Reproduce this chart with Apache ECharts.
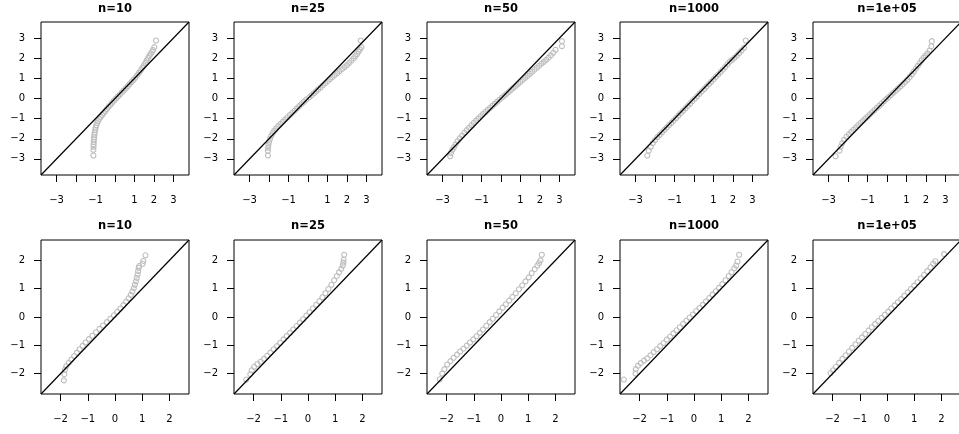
<!DOCTYPE html>
<html><head><meta charset="utf-8">
<script src="https://cdn.jsdelivr.net/npm/echarts@6/dist/echarts.min.js"></script>
<style>html,body{margin:0;padding:0;background:#fff}#c{width:959px;height:434px}</style>
</head><body><div id="c"></div>
<script>
// ---- data (x, y) ----
const panelTitles = ['n=10', 'n=25', 'n=50', 'n=1000', 'n=1e+05'];

const topTicks = [-3, -2, -1, 0, 1, 2, 3];
const topXTickLabels = ['−3', '', '−1', '', '1', '2', '3'];
const topYTickLabels = ['−3', '−2', '−1', '0', '1', '2', '3'];
const botTicks = [-2, -1, 0, 1, 2];
const botXTickLabels = ['−2', '−1', '0', '1', '2'];
const botYTickLabels = ['−2', '−1', '0', '1', '2'];
const topRange = [-3.8, 3.8];
const botRange = [-2.72, 2.72];

const top_n10 = [[-1.11,-2.83],[-1.11,-2.55],[-1.10,-2.40],[-1.10,-2.28],[-1.09,-2.16],[-1.08,-2.04],[-1.07,-1.92],[-1.06,-1.80],[-1.04,-1.68],[-1.02,-1.56],[-0.99,-1.44],[-0.96,-1.33],[-0.92,-1.22],[-0.87,-1.12],[-0.81,-1.02],[-0.74,-0.92],[-0.66,-0.82],[-0.58,-0.72],[-0.50,-0.62],[-0.42,-0.52],[-0.33,-0.42],[-0.24,-0.32],[-0.15,-0.21],[-0.05,-0.10],[0.05,0.00],[0.15,0.10],[0.25,0.20],[0.35,0.30],[0.45,0.40],[0.55,0.50],[0.65,0.60],[0.75,0.71],[0.85,0.82],[0.95,0.93],[1.05,1.04],[1.14,1.16],[1.23,1.28],[1.32,1.40],[1.40,1.52],[1.48,1.64],[1.56,1.77],[1.63,1.90],[1.70,2.02],[1.77,2.13],[1.84,2.23],[1.90,2.32],[1.95,2.41],[2.02,2.55],[2.11,2.88]];
const top_n25 = [[-2.06,-2.83],[-2.06,-2.60],[-2.05,-2.45],[-2.03,-2.30],[-2.00,-2.15],[-1.95,-2.00],[-1.89,-1.86],[-1.82,-1.73],[-1.74,-1.61],[-1.64,-1.49],[-1.53,-1.37],[-1.41,-1.26],[-1.29,-1.15],[-1.17,-1.04],[-1.05,-0.93],[-0.93,-0.82],[-0.81,-0.71],[-0.69,-0.60],[-0.57,-0.49],[-0.45,-0.38],[-0.33,-0.27],[-0.21,-0.16],[-0.09,-0.05],[0.06,0.06],[0.18,0.16],[0.30,0.26],[0.42,0.36],[0.53,0.46],[0.65,0.56],[0.77,0.66],[0.89,0.76],[1.01,0.86],[1.13,0.96],[1.25,1.06],[1.37,1.16],[1.50,1.26],[1.62,1.36],[1.75,1.46],[1.88,1.56],[2.00,1.66],[2.12,1.77],[2.23,1.88],[2.34,1.99],[2.43,2.10],[2.52,2.21],[2.60,2.33],[2.67,2.44],[2.74,2.55],[2.71,2.88]];
const top_n50 = [[-2.61,-2.87],[-2.57,-2.70],[-2.50,-2.55],[-2.42,-2.42],[-2.33,-2.28],[-2.23,-2.12],[-2.12,-1.98],[-2.00,-1.84],[-1.88,-1.70],[-1.76,-1.57],[-1.64,-1.45],[-1.52,-1.33],[-1.40,-1.21],[-1.28,-1.10],[-1.16,-0.99],[-1.04,-0.88],[-0.92,-0.77],[-0.80,-0.67],[-0.68,-0.56],[-0.56,-0.46],[-0.44,-0.36],[-0.32,-0.26],[-0.20,-0.16],[-0.08,-0.06],[0.04,0.04],[0.16,0.13],[0.28,0.23],[0.40,0.33],[0.52,0.43],[0.64,0.53],[0.76,0.63],[0.88,0.73],[1.00,0.83],[1.12,0.93],[1.24,1.03],[1.36,1.13],[1.48,1.23],[1.60,1.33],[1.72,1.43],[1.84,1.53],[1.96,1.63],[2.08,1.73],[2.20,1.82],[2.32,1.92],[2.44,2.03],[2.56,2.14],[2.68,2.27],[2.80,2.42],[3.13,2.60],[3.13,2.85]];
const top_n1000 = [[-2.40,-2.83],[-2.32,-2.59],[-2.22,-2.40],[-2.12,-2.22],[-2.00,-2.06],[-1.88,-1.92],[-1.76,-1.80],[-1.64,-1.68],[-1.52,-1.56],[-1.40,-1.44],[-1.28,-1.32],[-1.16,-1.21],[-1.04,-1.09],[-0.92,-0.97],[-0.80,-0.85],[-0.68,-0.73],[-0.56,-0.61],[-0.44,-0.49],[-0.32,-0.37],[-0.20,-0.25],[-0.08,-0.13],[0.04,-0.01],[0.16,0.11],[0.28,0.23],[0.40,0.35],[0.52,0.47],[0.64,0.59],[0.76,0.71],[0.88,0.83],[1.00,0.95],[1.12,1.07],[1.24,1.19],[1.36,1.31],[1.48,1.43],[1.60,1.56],[1.72,1.70],[1.84,1.83],[1.96,1.92],[2.08,2.02],[2.20,2.13],[2.32,2.25],[2.44,2.38],[2.57,2.52],[2.66,2.88]];
const top_n1e5 = [[-2.64,-2.87],[-2.44,-2.59],[-2.38,-2.40],[-2.30,-2.22],[-2.20,-2.05],[-2.08,-1.90],[-1.96,-1.78],[-1.84,-1.66],[-1.72,-1.55],[-1.60,-1.44],[-1.48,-1.33],[-1.36,-1.22],[-1.24,-1.11],[-1.12,-1.00],[-1.00,-0.90],[-0.88,-0.79],[-0.76,-0.68],[-0.64,-0.57],[-0.52,-0.46],[-0.40,-0.36],[-0.28,-0.25],[-0.16,-0.14],[-0.04,-0.03],[0.08,0.07],[0.20,0.17],[0.32,0.28],[0.44,0.38],[0.56,0.49],[0.68,0.59],[0.80,0.70],[0.92,0.81],[1.04,0.93],[1.16,1.06],[1.28,1.20],[1.38,1.34],[1.48,1.48],[1.58,1.62],[1.68,1.76],[1.78,1.90],[1.88,2.03],[1.98,2.13],[2.08,2.24],[2.18,2.38],[2.28,2.60],[2.30,2.85]];

const bot_n10 = [[-1.88,-2.24],[-1.86,-2.02],[-1.84,-1.86],[-1.79,-1.74],[-1.70,-1.62],[-1.60,-1.50],[-1.50,-1.38],[-1.40,-1.26],[-1.30,-1.14],[-1.19,-1.02],[-1.08,-0.90],[-0.96,-0.78],[-0.83,-0.66],[-0.70,-0.54],[-0.57,-0.42],[-0.44,-0.30],[-0.30,-0.18],[-0.17,-0.06],[-0.04,0.06],[0.08,0.18],[0.20,0.30],[0.31,0.42],[0.41,0.54],[0.50,0.66],[0.58,0.78],[0.64,0.90],[0.69,1.02],[0.73,1.14],[0.77,1.26],[0.80,1.38],[0.83,1.50],[0.85,1.62],[0.87,1.74],[0.89,1.80],[1.02,1.88],[1.04,1.98],[1.12,2.18]];
const bot_n25 = [[-2.27,-2.21],[-2.12,-2.02],[-2.07,-1.88],[-1.98,-1.76],[-1.86,-1.66],[-1.74,-1.58],[-1.62,-1.48],[-1.50,-1.37],[-1.38,-1.26],[-1.26,-1.14],[-1.14,-1.03],[-1.02,-0.91],[-0.90,-0.79],[-0.78,-0.67],[-0.66,-0.56],[-0.54,-0.44],[-0.42,-0.32],[-0.30,-0.20],[-0.18,-0.08],[-0.06,0.05],[0.06,0.17],[0.18,0.30],[0.30,0.43],[0.42,0.56],[0.53,0.70],[0.64,0.84],[0.75,0.99],[0.86,1.14],[0.96,1.30],[1.06,1.45],[1.14,1.58],[1.22,1.70],[1.28,1.82],[1.30,1.92],[1.31,2.02],[1.33,2.20]];
const bot_n50 = [[-2.25,-2.20],[-2.16,-2.00],[-2.08,-1.84],[-1.98,-1.68],[-1.86,-1.56],[-1.74,-1.44],[-1.62,-1.33],[-1.50,-1.22],[-1.38,-1.12],[-1.26,-1.01],[-1.14,-0.90],[-1.02,-0.79],[-0.90,-0.68],[-0.78,-0.56],[-0.66,-0.44],[-0.54,-0.31],[-0.42,-0.18],[-0.30,-0.06],[-0.18,0.07],[-0.06,0.20],[0.06,0.33],[0.18,0.45],[0.30,0.58],[0.42,0.71],[0.54,0.84],[0.66,0.98],[0.78,1.12],[0.90,1.26],[1.02,1.40],[1.13,1.55],[1.24,1.69],[1.34,1.82],[1.40,1.90],[1.45,2.00],[1.50,2.20]];
const bot_n1000 = [[-2.58,-2.21],[-2.15,-2.00],[-2.14,-1.84],[-2.06,-1.72],[-1.96,-1.63],[-1.84,-1.54],[-1.72,-1.46],[-1.60,-1.35],[-1.48,-1.24],[-1.36,-1.14],[-1.24,-1.03],[-1.12,-0.92],[-1.00,-0.80],[-0.88,-0.69],[-0.76,-0.58],[-0.64,-0.47],[-0.52,-0.36],[-0.40,-0.24],[-0.28,-0.13],[-0.16,-0.02],[-0.04,0.09],[0.08,0.21],[0.20,0.32],[0.32,0.43],[0.44,0.55],[0.56,0.67],[0.68,0.79],[0.80,0.91],[0.92,1.03],[1.04,1.16],[1.16,1.30],[1.28,1.45],[1.38,1.58],[1.48,1.72],[1.55,1.82],[1.60,1.96],[1.66,2.20]];
const bot_n1e5 = [[-2.07,-1.98],[-1.98,-1.88],[-1.88,-1.76],[-1.76,-1.62],[-1.64,-1.48],[-1.52,-1.35],[-1.40,-1.22],[-1.28,-1.09],[-1.16,-0.96],[-1.04,-0.84],[-0.92,-0.72],[-0.80,-0.60],[-0.68,-0.48],[-0.56,-0.36],[-0.44,-0.25],[-0.32,-0.14],[-0.20,-0.03],[-0.08,0.08],[0.04,0.19],[0.16,0.30],[0.28,0.41],[0.40,0.52],[0.52,0.63],[0.64,0.75],[0.76,0.87],[0.88,0.99],[1.00,1.11],[1.12,1.23],[1.24,1.36],[1.36,1.49],[1.48,1.62],[1.60,1.76],[1.70,1.88],[1.78,1.97],[2.10,2.22]];

const topRowData = [top_n10, top_n25, top_n50, top_n1000, top_n1e5];
const botRowData = [bot_n10, bot_n25, bot_n50, bot_n1000, bot_n1e5];

// ---- layout ----
const colLeft = [41, 234, 427, 620, 813];
const boxW = 148;
const rowTop = [22, 240];
const boxH = [153, 154];
const titleTop = [3, 220];
const FONT = 'DejaVu Sans';
const TICKFONT = 10;

const grids = [], xAxes = [], yAxes = [], series = [], titles = [];
function labelMap(ticks, labels) {
  return function (v) {
    const i = ticks.findIndex(t => Math.abs(t - v) < 1e-6);
    return i >= 0 ? labels[i] : '';
  };
}
for (let r = 0; r < 2; r++) {
  const rowData = r === 0 ? topRowData : botRowData;
  const ticks = r === 0 ? topTicks : botTicks;
  const xl = r === 0 ? topXTickLabels : botXTickLabels;
  const yl = r === 0 ? topYTickLabels : botYTickLabels;
  const range = r === 0 ? topRange : botRange;
  for (let c = 0; c < 5; c++) {
    const idx = r * 5 + c;
    grids.push({
      left: colLeft[c], top: rowTop[r], width: boxW, height: boxH[r],
      show: true, borderColor: '#000', borderWidth: 1, backgroundColor: 'transparent',
      containLabel: false, outerBoundsMode: 'none'
    });
    xAxes.push({
      type: 'value', gridIndex: idx, min: range[0], max: range[1], position: 'bottom',
      axisLine: { show: false, onZero: false },
      splitLine: { show: false },
      axisTick: { show: true, inside: false, length: 7, customValues: ticks, lineStyle: { color: '#000', width: 1 } },
      axisLabel: { customValues: ticks, formatter: labelMap(ticks, xl), margin: 20, fontSize: TICKFONT, fontFamily: FONT, color: '#000', hideOverlap: false }
    });
    yAxes.push({
      type: 'value', gridIndex: idx, min: range[0], max: range[1], position: 'left',
      axisLine: { show: false, onZero: false },
      splitLine: { show: false },
      axisTick: { show: true, inside: false, length: 7, customValues: ticks, lineStyle: { color: '#000', width: 1 } },
      axisLabel: { customValues: ticks, formatter: labelMap(ticks, yl), margin: 16, align: 'right', fontSize: TICKFONT, fontFamily: FONT, color: '#000', hideOverlap: false }
    });
    series.push({
      type: 'scatter', xAxisIndex: idx, yAxisIndex: idx, data: rowData[c],
      symbol: 'circle', symbolSize: 5, silent: true, z: 2,
      itemStyle: { color: 'rgba(0,0,0,0)', borderColor: '#bebebe', borderWidth: 1.1, opacity: 1 }
    });
    series.push({
      type: 'line', xAxisIndex: idx, yAxisIndex: idx,
      data: [[range[0], range[0]], [range[1], range[1]]],
      symbol: 'none', silent: true, z: 3,
      lineStyle: { color: '#000', width: 1.2 }
    });
    titles.push({
      text: panelTitles[c], left: colLeft[c] + boxW / 2, top: titleTop[r],
      textAlign: 'center', padding: 0,
      textStyle: { fontFamily: FONT, fontWeight: 'bold', fontSize: 11.5, color: '#000' }
    });
  }
}

const chart = echarts.init(document.getElementById('c'), null, { renderer: 'canvas' });
chart.setOption({
  animation: false,
  backgroundColor: '#fff',
  title: titles,
  grid: grids,
  xAxis: xAxes,
  yAxis: yAxes,
  series: series
});
</script>
</body></html>
